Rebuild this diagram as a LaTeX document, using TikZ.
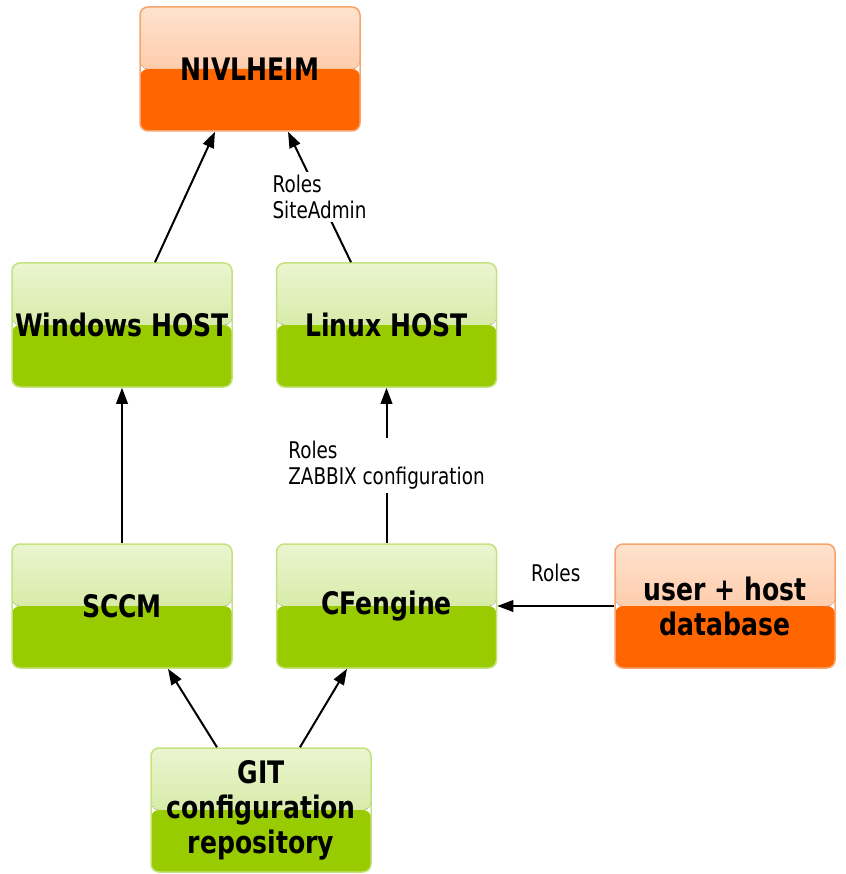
\documentclass[tikz,border=0pt]{standalone}
\usepackage{fontspec}
\setmainfont{DejaVu Sans}
\newfontfamily\boxfont{DejaVu Sans}[FakeStretch=0.81]
\newfontfamily\lblfont{DejaVu Sans}[FakeStretch=0.8]
\usetikzlibrary{arrows.meta,calc}
\definecolor{gborder}{HTML}{C4E27E}
\definecolor{gtop}{HTML}{EBF5D0}
\definecolor{gmid}{HTML}{C5E183}
\definecolor{gbot}{HTML}{99CC00}
\definecolor{oborder}{HTML}{F6A46C}
\definecolor{otop}{HTML}{FEE2CE}
\definecolor{omid}{HTML}{FDB88B}
\definecolor{obot}{HTML}{FF6600}
\tikzset{
  boxbase/.style={rounded corners=8pt, line width=1.5pt, minimum width=220pt, minimum height=124pt,
    inner sep=0pt, align=center, font=\boxfont\bfseries\fontsize{31}{35}\selectfont},
  greenbox/.style={boxbase, draw=gborder, path picture={
    \fill[top color=gtop, bottom color=gmid] (path picture bounding box.north west) rectangle (path picture bounding box.east);
    \fill[gbot] (path picture bounding box.west) rectangle (path picture bounding box.south east);}},
  orangebox/.style={boxbase, draw=oborder, path picture={
    \fill[top color=otop, bottom color=omid] (path picture bounding box.north west) rectangle (path picture bounding box.east);
    \fill[obot] (path picture bounding box.west) rectangle (path picture bounding box.south east);}},
  conn/.style={line width=2pt, -{Triangle[length=16pt,width=11.5pt]}},
  lbl/.style={fill=white, inner sep=3pt, align=left, font=\lblfont\fontsize{23}{26}\selectfont}
}
\begin{document}
\begin{tikzpicture}[x=1pt,y=-1pt]
\useasboundingbox (0,0) rectangle (845,874);
\node[orangebox] (niv) at (250,69) {NIVLHEIM};
\node[greenbox] (win) at (122,325) {Windows HOST};
\node[greenbox] (lin) at (386.5,325) {Linux HOST};
\node[greenbox] (sccm) at (122,606) {SCCM};
\node[greenbox] (cf) at (386.5,606) {CFengine};
\node[orangebox] (db) at (725,606) {user + host\\database};
\node[greenbox] (git) at (261,810) {GIT\\configuration\\repository};
\draw[conn] ([xshift=33pt]win.north) -- ([xshift=-35pt]niv.south);
\draw[conn] ([xshift=-35.5pt]lin.north) -- node[lbl] (l1) {Roles\\SiteAdmin} ([xshift=38pt]niv.south);
\draw[conn] (sccm.north) -- (win.south);
\draw[conn] (cf.north) -- node[lbl] (l2) {Roles\\ZABBIX configuration} (lin.south);
\draw[conn] (db.west) -- node[lbl, above=20pt] (l3) {Roles} (cf.east);
\draw[conn] ([xshift=-44pt]git.north) -- ([xshift=46pt]sccm.south);
\draw[conn] ([xshift=39pt]git.north) -- ([xshift=-39.5pt]cf.south);
\end{tikzpicture}
\end{document}
